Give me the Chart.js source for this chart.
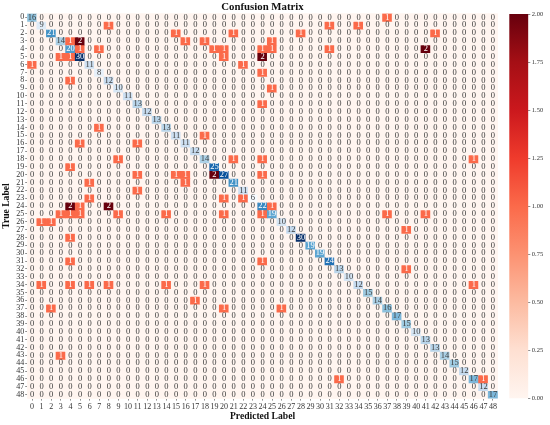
<!DOCTYPE html>
<html>
<head>
<meta charset="utf-8">
<script src="https://cdn.jsdelivr.net/npm/chart.js@4"></script>
<style>
  html, body { margin: 0; padding: 0; background: #fff; overflow: hidden; }
  canvas { position: absolute; top: 0; }
  #matrix { left: 0; }
  #colorbar { left: 500px; }
</style>
</head>
<body>
<canvas id="matrix" width="505" height="425"></canvas>
<canvas id="colorbar" width="50" height="425"></canvas>
<script>
const labels = ['0','1','2','3','4','5','6','7','8','9','10','11','12','13','14','15','16','17','18','19','20','21','22','23','24','25','26','27','28','29','30','31','32','33','34','35','36','37','38','39','40','41','42','43','44','45','46','47','48'];

// correct predictions (diagonal)
const correct = [16,9,21,14,20,30,11,8,12,10,11,13,12,13,13,11,11,12,14,25,27,21,11,6,22,19,10,12,30,19,19,24,13,10,12,15,14,16,17,15,10,13,13,14,15,12,17,12,17];

// wrong predictions: true row, predicted column, count
const missTrue = [0,1,1,1,2,2,2,2,3,3,3,3,3,4,4,4,4,4,4,4,4,5,5,5,5,6,6,7,8,9,11,14,15,16,16,18,18,18,18,19,20,20,20,20,20,21,21,22,23,23,23,24,24,24,24,25,25,25,25,25,25,25,25,25,26,26,27,28,31,31,32,34,34,34,34,34,34,34,36,37,37,37,43,46,46];
const missPred = [37,8,31,34,15,21,28,42,4,5,16,18,25,5,7,19,20,24,25,31,41,3,4,20,24,0,22,24,4,25,24,7,18,5,11,9,21,24,46,4,11,15,16,19,24,6,16,11,6,20,22,4,5,8,25,3,4,5,9,14,20,24,37,41,1,2,39,4,4,24,39,1,4,6,8,14,18,46,17,2,20,26,3,32,47];
const missCount = [1,1,1,1,1,1,1,1,1,2,1,1,1,1,1,1,1,1,1,1,2,1,1,1,2,1,1,1,1,1,1,1,1,1,1,1,1,1,1,1,1,1,1,2,1,1,1,1,1,1,1,2,1,2,1,1,1,1,1,1,1,1,1,1,1,1,1,1,1,1,1,1,1,1,1,1,1,1,1,1,1,1,1,1,1];

const colorbarTicks = [0, 0.25, 0.5, 0.75, 1, 1.25, 1.5, 1.75, 2];

const redStops = ['#fff5f0','#fee0d2','#fcbba1','#fc9272','#fb6a4a','#ef3b2c','#cb181d','#a50f15','#67000d'];
const blueStops = ['#f7fbff','#deebf7','#c6dbef','#9ecae1','#6baed6','#4292c6','#2171b5','#08519c','#08306b'];
const SERIF = '"Liberation Serif", "Times New Roman", serif';

function hexRgb(hex) {
    return [1, 3, 5].map(i => parseInt(hex.slice(i, i + 2), 16));
}

function sampleStops(stops, t) {
    const p = Math.max(0, Math.min(1, t)) * (stops.length - 1);
    const i = Math.min(Math.floor(p), stops.length - 2);
    const a = hexRgb(stops[i]), b = hexRgb(stops[i + 1]);
    return a.map((v, k) => Math.round(v + (b[k] - v) * (p - i)));
}

// same rule seaborn uses to pick dark or white annotation text
function textColorOn(rgb) {
    const lin = rgb.map(v => {
        v /= 255;
        return v <= 0.03928 ? v / 12.92 : Math.pow((v + 0.055) / 1.055, 2.4);
    });
    const lum = 0.2126 * lin[0] + 0.7152 * lin[1] + 0.0722 * lin[2];
    return lum < 0.408 ? '#fff' : '#3a3a3a';
}

function cellColor(row, col, value) {
    if (row === col) return sampleStops(blueStops, (value - 6) / 24);
    return sampleStops(redStops, value / 2);
}

// build the table
const counts = labels.map(() => labels.map(() => 0));
correct.forEach((v, i) => { counts[i][i] = v; });
missTrue.forEach((r, i) => { counts[r][missPred[i]] = missCount[i]; });

const rowIndexes = labels.map((l, i) => i);

const datasets = counts.map((rowValues, row) => ({
    data: rowValues.map(() => [row - 0.5, row + 0.5]),
    backgroundColor: rowValues.map((v, col) => 'rgb(' + cellColor(row, col, v).join(',') + ')'),
    borderWidth: 0,
    borderSkipped: false,
    barPercentage: 1,
    categoryPercentage: 1,
    grouped: false
}));

// cell background so no white seams show between bars
const areaFill = {
    id: 'areaFill',
    beforeDatasetsDraw(chart) {
        const a = chart.chartArea;
        chart.ctx.fillStyle = redStops[0];
        chart.ctx.fillRect(a.left, a.top, a.width, a.height);
    }
};

const cellText = {
    id: 'cellText',
    afterDatasetsDraw(chart) {
        const ctx = chart.ctx;
        const x = chart.scales.x, y = chart.scales.y;
        ctx.save();
        ctx.font = '8.5px ' + SERIF;
        ctx.textAlign = 'center';
        ctx.textBaseline = 'middle';
        counts.forEach((rowValues, row) => {
            rowValues.forEach((v, col) => {
                ctx.fillStyle = textColorOn(cellColor(row, col, v));
                ctx.fillText(String(v), x.getPixelForValue(col), y.getPixelForValue(row));
            });
        });
        ctx.restore();
    }
};

new Chart(document.getElementById('matrix'), {
    type: 'bar',
    data: { labels: labels, datasets: datasets },
    plugins: [areaFill, cellText],
    options: {
        responsive: false,
        animation: false,
        layout: { padding: { top: 0, right: 7.2, bottom: 0, left: 0 } },
        plugins: {
            legend: { display: false },
            tooltip: { enabled: false },
            title: {
                display: true,
                fullSize: false,
                text: 'Confusion Matrix',
                color: '#111',
                font: { family: SERIF, size: 10.8, weight: 'bold', lineHeight: 1.2 },
                padding: { top: 0.5, bottom: 0 }
            }
        },
        scales: {
            x: {
                offset: true,
                grid: { offset: false, drawOnChartArea: false, tickLength: 2, tickColor: '#444', tickWidth: 0.6 },
                border: { display: false },
                ticks: { autoSkip: false, maxRotation: 0, minRotation: 0, padding: 2, color: '#333', font: { family: SERIF, size: 8 } },
                title: {
                    display: true,
                    text: 'Predicted Label',
                    color: '#111',
                    font: { family: SERIF, size: 9.6, weight: 'bold', lineHeight: 1.2 },
                    padding: { top: 0, bottom: 2.5 }
                },
                afterFit(scale) { scale.height = 26.4; }
            },
            y: {
                reverse: true,
                min: -0.5,
                max: 48.5,
                afterBuildTicks(scale) { scale.ticks = rowIndexes.map(v => ({ value: v })); },
                grid: { drawOnChartArea: false, tickLength: 2, tickColor: '#444', tickWidth: 0.6 },
                border: { display: false },
                ticks: {
                    autoSkip: false,
                    padding: 1,
                    color: '#333',
                    font: { family: SERIF, size: 8 },
                    callback: v => labels[v]
                },
                title: {
                    display: true,
                    text: 'True Label',
                    color: '#111',
                    font: { family: SERIF, size: 9.6, weight: 'bold', lineHeight: 1.2 },
                    padding: { top: 1, bottom: 0 }
                },
                afterFit(scale) { scale.width = 27.2; }
            }
        }
    }
});

// colour bar: one floating bar over the 0-2 range
new Chart(document.getElementById('colorbar'), {
    type: 'bar',
    data: {
        labels: [''],
        datasets: [{
            data: [[colorbarTicks[0], colorbarTicks[colorbarTicks.length - 1]]],
            borderWidth: 0,
            borderSkipped: false,
            barPercentage: 1,
            categoryPercentage: 1,
            backgroundColor(c) {
                const a = c.chart.chartArea;
                if (!a) return redStops[4];
                const g = c.chart.ctx.createLinearGradient(0, a.bottom, 0, a.top);
                redStops.forEach((s, i) => g.addColorStop(i / (redStops.length - 1), s));
                return g;
            }
        }]
    },
    options: {
        responsive: false,
        animation: false,
        layout: { padding: { top: 14, right: 0, bottom: 26.4, left: 9.3 } },
        plugins: { legend: { display: false }, tooltip: { enabled: false } },
        scales: {
            x: { display: false },
            y: {
                position: 'right',
                min: colorbarTicks[0],
                max: colorbarTicks[colorbarTicks.length - 1],
                afterBuildTicks(scale) { scale.ticks = colorbarTicks.map(v => ({ value: v })); },
                grid: { drawOnChartArea: false, tickLength: 2, tickColor: '#444', tickWidth: 0.6 },
                border: { display: false },
                ticks: {
                    padding: 1.5,
                    color: '#333',
                    font: { family: SERIF, size: 6.5 },
                    callback: v => v.toFixed(2)
                },
                afterFit(scale) { scale.width = 21.7; }
            }
        }
    }
});
</script>
</body>
</html>
